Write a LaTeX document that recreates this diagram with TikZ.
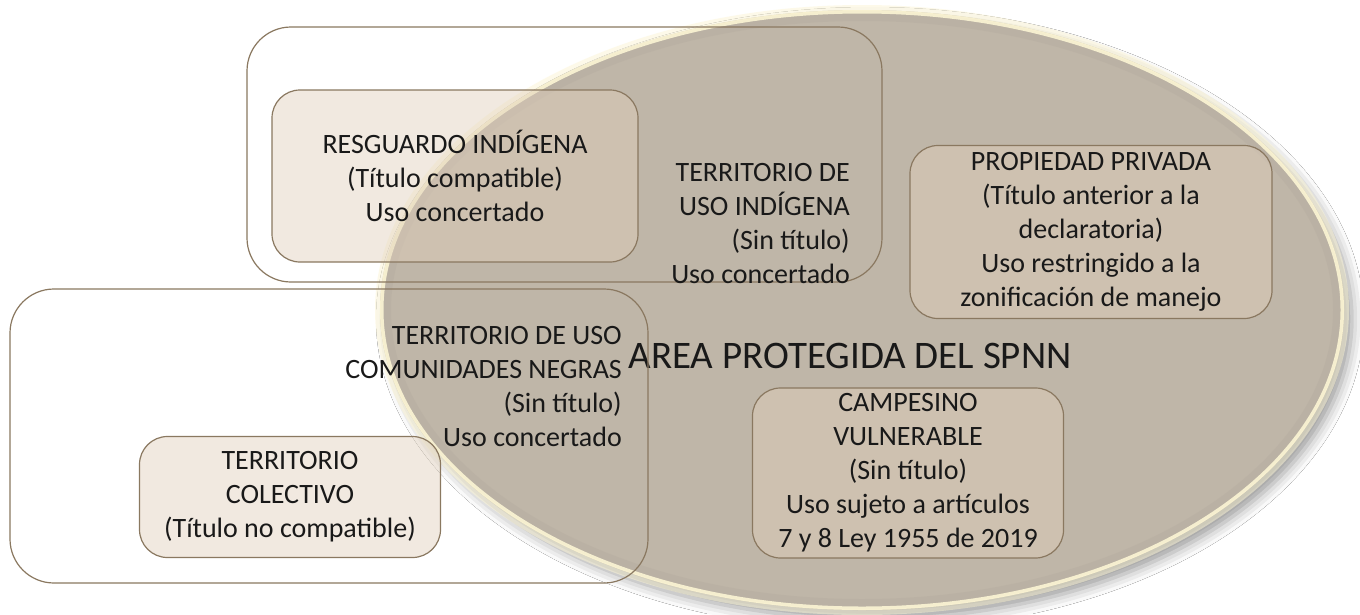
\documentclass[tikz,border=0pt]{standalone}
\usepackage{fontspec}
\setmainfont{Carlito}
\usetikzlibrary{positioning,shadows.blur}

\definecolor{areafill}{RGB}{191,182,168}
\definecolor{arearim}{RGB}{252,245,212}
\definecolor{areashade}{RGB}{170,160,148}
\definecolor{boxedge}{RGB}{138,120,96}
\definecolor{boxfill}{RGB}{225,208,187}
\definecolor{ink}{RGB}{25,25,25}

\begin{document}
\begin{tikzpicture}[x=1pt,y=-1pt,
    zone/.style={draw=boxedge,line width=1.2pt,rounded corners=44pt,inner sep=0pt},
    tenure/.style={draw=boxedge,line width=1.2pt,rounded corners=28pt,fill=boxfill,
      fill opacity=0.45,text opacity=1,inner sep=0pt,align=center,text=ink,
      font=\fontsize{28}{34}\selectfont},
    txt/.style={align=right,text=ink,inner sep=0pt,font=\fontsize{28}{34}\selectfont}
    ]

    \useasboundingbox[fill=white] (0,0) rectangle (1360,614);

    % protected area
    \fill[areafill,blur shadow={shadow xshift=8pt,shadow yshift=-9pt,shadow blur radius=12pt,shadow opacity=40}]
      (862,310) ellipse [x radius=482pt,y radius=300pt];
    \draw[arearim,line width=6pt,opacity=0.5] (862,310) ellipse [x radius=484pt,y radius=302pt];
    \begin{scope}
      \clip (862,310) ellipse [x radius=482pt,y radius=300pt];
      \draw[areashade,line width=22pt,opacity=0.2] (862,310) ellipse [x radius=482pt,y radius=300pt];
      \draw[arearim,line width=7pt,opacity=0.9] (862,310) ellipse [x radius=482pt,y radius=300pt];
    \end{scope}
    \node (area) [text=ink,font=\fontsize{39}{46}\selectfont] at (850,356) {AREA PROTEGIDA DEL SPNN};

    % territories
    \node (indig) [zone,minimum width=635pt,minimum height=255pt] at (564.5,154.5) {};
    \node (negras) [zone,minimum width=638pt,minimum height=294pt] at (329,436) {};

    \node (indigtxt) [txt,anchor=east] at (850,224) {TERRITORIO DE\\USO INDÍGENA\\(Sin título)\\Uso concertado};
    \node (negrastxt) [txt,anchor=east] at (622,387) {TERRITORIO DE USO\\COMUNIDADES NEGRAS\\(Sin título)\\Uso concertado};

    % titles inside
    \node (resguardo) [tenure,minimum width=366pt,minimum height=172pt] at (455,176)
      {RESGUARDO INDÍGENA\\(Título compatible)\\Uso concertado};
    \node (colectivo) [tenure,minimum width=301pt,minimum height=121pt] at (290,497)
      {TERRITORIO\\COLECTIVO\\(Título no compatible)};
    \node (privada) [tenure,minimum width=362pt,minimum height=173pt] at (1091,232)
      {PROPIEDAD PRIVADA\\(Título anterior a la\\declaratoria)\\Uso restringido a la\\zonificación de manejo};
    \node (campesino) [tenure,minimum width=311pt,minimum height=170pt] at (908,473)
      {CAMPESINO\\VULNERABLE\\(Sin título)\\Uso sujeto a artículos\\7 y 8 Ley 1955 de 2019};

  \end{tikzpicture}
\end{document}
